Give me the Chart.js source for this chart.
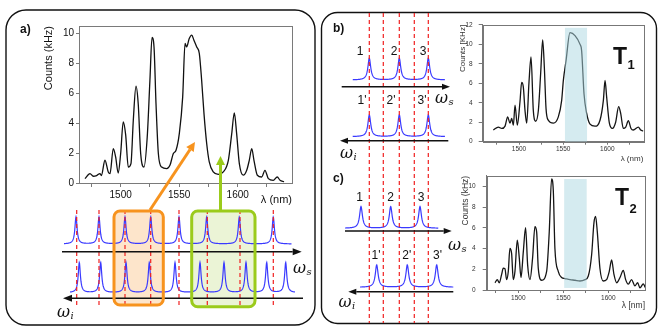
<!DOCTYPE html>
<html><head><meta charset="utf-8">
<script src="https://cdn.jsdelivr.net/npm/chart.js@4.4.1/dist/chart.umd.min.js"></script>
<style>
html,body{margin:0;padding:0;background:#fff;}
#wrap{position:relative;width:664px;height:332px;overflow:hidden;background:#fff;}
canvas{position:absolute;}
</style></head><body>
<div id="wrap">
<canvas id="cA" width="285" height="195" style="left:20px;top:15px"></canvas>
<canvas id="cT1" width="200" height="155" style="left:455px;top:15px"></canvas>
<canvas id="cT2" width="200" height="150" style="left:455px;top:165px"></canvas>
<canvas id="cOv" width="664" height="332" style="left:0;top:0;pointer-events:none"></canvas>
</div>
<script>
// ---- data: panel a) spectrum ----
const lambdaA = [1469.5,1473.8,1476.6,1479.5,1482.3,1483.5,1486.6,1489.4,1490.9,1493.7,1495.7,1497.9,1500,1502.2,1504.3,1506.5,1508.8,1510.8,1513.1,1515,1517.1,1519.9,1522.7,1525,1526.8,1528.5,1530.2,1532.2,1535,1539.3,1542.1,1545,1547.3,1550.1,1553,1555,1556.4,1558.6,1560.7,1562.6,1565,1567.2,1569.2,1571.2,1573.5,1575.7,1579.1,1583.4,1587.7,1592,1594.9,1597.1,1599.1,1601.4,1604.8,1607.7,1609.9,1612,1613.9,1616.8,1620.5,1623.3,1626.2,1630.4,1633.8,1636.2,1639.6];
const countsA = [0.29,0.63,0.45,0.5,0.63,0.5,1.52,0.74,0.63,2.3,1.74,0.67,1.97,4.08,3.2,1.07,1.3,4.2,6.47,5.3,1.97,1.07,3.08,6.87,9.73,9.1,5.3,1.97,1.07,0.96,1.18,1.97,2.19,3.3,5.76,9.33,9.1,9.66,9.89,9.55,9.1,8.66,6.87,4.64,2.64,1.41,0.74,0.58,0.74,1.52,3.3,4.69,3.3,1.3,0.52,0.85,1.52,2.3,1.52,0.52,0.4,0.85,0.29,0.18,0.4,0.18,0.09];
// ---- data: T1 spectrum ----
const lambdaT1 = [1470.9,1476.6,1480.4,1484.2,1487.2,1489.8,1491.7,1493.6,1495.5,1498.1,1501.1,1503,1504.9,1506.8,1508.7,1511.3,1513.6,1516.2,1518.9,1521.9,1524.5,1526.8,1528.7,1530.6,1533.2,1538.9,1544.5,1548.3,1550.2,1553.2,1557.7,1563.4,1569.1,1570.9,1573.6,1576.6,1580.4,1586,1591.7,1595.5,1597.4,1599.2,1602.3,1605.7,1609.4,1612.8,1615.1,1618.1,1620.8,1623.8,1626.8,1629.4,1635.1,1637.7,1641];
const countsT1 = [1.2,1.5,1.36,1.6,2.55,1.9,2.4,1.7,3.75,1.7,4.1,6.1,5.6,3.2,1.9,6.1,8.7,3.2,2.1,3.2,7.0,10.45,7.6,3.4,2.2,1.9,2.55,4.25,6.3,8.3,11.2,10.9,10.0,9.35,4.9,2.9,1.8,1.6,2.2,4.25,6.3,4.6,1.9,1.36,2.0,3.6,2.9,1.36,1.5,2.15,1.36,1.2,1.5,1.2,1.1];
// ---- data: T2 spectrum ----
const lambdaT2 = [1474.1,1476.7,1478.9,1481.5,1483.3,1485.2,1487,1488.9,1490.7,1492.6,1494.4,1496.3,1498.9,1501.1,1503,1505.6,1508.1,1510.4,1513,1515.9,1518.5,1520.4,1522.2,1525.9,1531.5,1534.4,1537,1538.9,1540.7,1544.4,1548.1,1551.9,1557.4,1563,1568.5,1574.1,1577.8,1581.5,1584.1,1585.9,1587.8,1590.7,1594.4,1598.1,1601.1,1603.7,1606.3,1609.3,1613,1616.7,1619.3,1622.2,1625.9,1629.6,1632.6,1635.2,1638.9,1641];
const countsT2 = [0.7,1.0,0.7,1.5,2.1,2.05,1.0,1.8,4.0,3.5,1.0,1.8,4.8,3.1,1.2,3.7,6.0,2.4,1.0,3.1,6.1,5.6,2.1,0.94,1.8,5.6,10.7,9.6,4.0,1.8,1.2,1.1,1.0,0.94,0.87,1.0,1.35,3.4,6.5,7.1,5.6,2.1,0.87,1.0,1.8,2.9,1.5,0.7,1.2,1.9,1.0,0.56,1.0,0.4,0.7,0.2,0.6,0.25];
// ---- ticks ----
const xTickValues = [1475,1500,1525,1550,1575,1600,1625];
const xTickLabels = [1500,1550,1600];
const yTicksA = [0,2,4,6,8,10];
const yTicksT1 = [0,2,4,6,8,10,12];
const yTicksT2 = [0,2,4,6,8,10];
// ---- shaded bands [from, to, bottom, top] ----
const bandT1 = [1552, 1577, 0, 11.7];
const bandT2 = [1551, 1576, 0.2, 10.7];

const FONT = "'Liberation Sans', Arial, sans-serif";

const framePlugin = {
  id:'frame',
  afterDatasetsDraw(chart, args, opts){
    const {ctx, chartArea:a} = chart;
    ctx.save();
    const band = opts.band;
    if (band) {
      const {x, y} = chart.scales;
      const x0 = x.getPixelForValue(band[0]), x1 = x.getPixelForValue(band[1]);
      const y0 = y.getPixelForValue(band[3]), y1 = y.getPixelForValue(band[2]);
      ctx.fillStyle = 'rgba(172,216,226,0.5)';
      ctx.fillRect(x0, y0, x1 - x0, y1 - y0);
    }
    ctx.strokeStyle = opts.color || '#777';
    ctx.lineWidth = 1;
    ctx.strokeRect(Math.round(a.left)+0.5, Math.round(a.top)+0.5, Math.round(a.right-a.left), Math.round(a.bottom-a.top));
    ctx.restore();
  }
};

function spectrum(id, lam, cnt, c) {
  return new Chart(document.getElementById(id), {
    type:'line',
    data:{datasets:[{data: lam.map((l,i)=>({x:l, y:cnt[i]})), borderColor:c.line, borderWidth:c.lw,
      pointRadius:0, cubicInterpolationMode:'monotone', fill:false}]},
    options:{
      responsive:false, animation:false, devicePixelRatio:1, events:[],
      layout:{padding:{top:c.padTop, right:c.padRight, left:0, bottom:0}},
      plugins:{legend:{display:false}, tooltip:{enabled:false}, frame:{band:c.band, color:c.frame}},
      scales:{
        x:{type:'linear', min:c.xmin, max:c.xmax,
          afterFit:s=>{s.height=c.xh;},
          afterBuildTicks:s=>{s.ticks = xTickValues.map(v=>({value:v}));},
          ticks:{autoSkip:false, maxRotation:0, padding:c.xPad, color:c.tick,
            font:{family:FONT, size:c.tickFont},
            callback:v=> xTickLabels.includes(v) ? String(v) : ''},
          grid:{drawOnChartArea:false, drawTicks:true, tickLength:c.xTL, color:c.frame},
          border:{display:true, color:c.frame, width:1},
          title:{display:true, text:c.xTitle, align:'end', color:c.title,
            font:{family:FONT, size:c.titleFont}, padding:{top:0, bottom:c.xTitlePad}}
        },
        y:{type:'linear', min:0, max:c.ymax,
          afterFit:s=>{s.width=c.yw;},
          afterBuildTicks:s=>{s.ticks = c.yTicks.map(v=>({value:v}));},
          ticks:{padding:c.yPad, color:c.tick, font:{family:FONT, size:c.tickFont}},
          grid:{drawOnChartArea:false, drawTicks:true, tickLength:c.yTL, color:c.frame},
          border:{display:true, color:c.frame, width:1},
          title:{display:true, text:c.yTitle, align:'end', color:c.title,
            font:{family:FONT, size:c.titleFont}, padding:{top:c.yTitlePad, bottom:0}}
        }
      }
    },
    plugins:[framePlugin]
  });
}

spectrum('cA', lambdaA, countsA, {line:'#111', lw:1.3, padTop:11, padRight:13, xmin:1464.4, xmax:1646.4,
  xh:27, yw:59, ymax:10.5, yTicks:yTicksA, tickFont:10, titleFont:11, tick:'#111', title:'#111', frame:'#7a7a7a',
  xPad:2, xTL:4, yPad:2, yTL:3, xTitle:'λ (nm)', xTitlePad:3.4, yTitle:'Counts (kHz)', yTitlePad:22.4});

spectrum('cT1', lambdaT1, countsT1, {line:'#151515', lw:1.3, padTop:9, padRight:11.7, xmin:1458.9, xmax:1640.7,
  xh:28.3, yw:27.7, ymax:12, yTicks:yTicksT1, tickFont:6.5, titleFont:8, tick:'#333', title:'#333', frame:'#777',
  xPad:1, xTL:3, yPad:6, yTL:4, xTitle:'λ (nm)', xTitlePad:6, yTitle:'Counts [KHz]', yTitlePad:2.5, band:bandT1});

spectrum('cT2', lambdaT2, countsT2, {line:'#151515', lw:1.3, padTop:6.7, padRight:10, xmin:1464.9, xmax:1640.8,
  xh:25, yw:31.7, ymax:11, yTicks:yTicksT2, tickFont:6.5, titleFont:8.5, tick:'#333', title:'#333', frame:'#777',
  xPad:1, xTL:3, yPad:7, yTL:4, xTitle:'λ [nm]', xTitlePad:3.9, yTitle:'Counts (kHz)', yTitlePad:5.5, band:bandT2});

// ---- overlay: panels, schematics, arrows, labels ----
const schematic = {
  id:'schematic',
  afterDraw(chart){
    const {ctx} = chart;
    const sx = chart.scales.x, sy = chart.scales.y;
    const X = v => sx.getPixelForValue(v), Y = v => sy.getPixelForValue(v);

    function rrect(x, y, w, h, r){
      ctx.beginPath();
      ctx.moveTo(X(x+r), Y(y));
      ctx.arcTo(X(x+w), Y(y), X(x+w), Y(y+h), r);
      ctx.arcTo(X(x+w), Y(y+h), X(x), Y(y+h), r);
      ctx.arcTo(X(x), Y(y+h), X(x), Y(y), r);
      ctx.arcTo(X(x), Y(y), X(x+w), Y(y), r);
      ctx.closePath();
    }
    function comb(x0, x1, base, h, g, peaks){
      ctx.beginPath();
      for (let v = x0; v <= x1 + 1e-6; v += 0.25) {
        let s = 0;
        for (const p of peaks) { const d = v - p; s += g*g/(d*d + g*g); }
        const px = X(v), py = Y(base - h*s);
        if (v === x0) ctx.moveTo(px, py); else ctx.lineTo(px, py);
      }
      ctx.strokeStyle = '#3a3aff'; ctx.lineWidth = 1.2; ctx.stroke();
    }
    function dashed(xs, y0, y1){
      ctx.save();
      ctx.setLineDash([4,3]); ctx.strokeStyle = '#f02020'; ctx.lineWidth = 1.2;
      for (const v of xs){ ctx.beginPath(); ctx.moveTo(X(v), Y(y0)); ctx.lineTo(X(v), Y(y1)); ctx.stroke(); }
      ctx.restore();
    }
    function arrow(x0, y0, x1, y1, color, lw, hl, hw){
      const ang = Math.atan2(Y(y1)-Y(y0), X(x1)-X(x0));
      const bx = X(x1) - hl*Math.cos(ang), by = Y(y1) - hl*Math.sin(ang);
      ctx.beginPath(); ctx.moveTo(X(x0), Y(y0)); ctx.lineTo(bx, by);
      ctx.strokeStyle = color; ctx.lineWidth = lw; ctx.stroke();
      ctx.beginPath(); ctx.moveTo(X(x1), Y(y1));
      ctx.lineTo(bx + hw/2*Math.sin(ang), by - hw/2*Math.cos(ang));
      ctx.lineTo(bx - hw/2*Math.sin(ang), by + hw/2*Math.cos(ang));
      ctx.closePath(); ctx.fillStyle = color; ctx.fill();
    }
    function text(t, x, y, font, align){
      ctx.font = font; ctx.fillStyle = '#111'; ctx.textAlign = align || 'left'; ctx.textBaseline = 'alphabetic';
      ctx.fillText(t, X(x), Y(y));
    }
    function omega(x, y, sub){
      text('ω', x, y, "italic 16px 'DejaVu Serif', serif");
      const w = ctx.measureText('ω').width;
      text(sub, x + w + 0.5, y + 2, "italic 10px 'DejaVu Serif', serif");
    }

    ctx.save();
    // panels
    ctx.lineWidth = 1.4; ctx.strokeStyle = '#111';
    rrect(6, 10, 309, 315, 20); ctx.stroke();
    rrect(321.5, 12.5, 335, 311, 16); ctx.stroke();

    // a) boxes (fill)
    rrect(114, 211, 49.3, 94, 6); ctx.fillStyle = '#fde5cb'; ctx.fill();
    rrect(191.7, 211, 63.3, 95.7, 6); ctx.fillStyle = '#ebf4d6'; ctx.fill();

    // combs
    comb(64, 291.7, 244, 27, 1.3, [76, 99, 125, 150.7, 179, 206.7, 239.3, 273.3]);
    comb(70, 295, 292.7, 30, 1.3, [79.3, 100.7, 126, 149.3, 175, 200, 224, 246, 266.7, 285.7]);
    comb(352.7, 445, 80, 21.7, 1.7, [369.3, 399.3, 428.3]);
    comb(352.7, 445, 136.7, 21.7, 1.7, [369.3, 399.3, 428.3]);
    comb(345, 438.3, 228.3, 21.6, 1.7, [361, 390.7, 420]);
    comb(360, 453.3, 287.3, 22.3, 1.7, [376.7, 407.3, 436.7]);

    // red dashed guides
    dashed([76.7, 99, 125, 150.7, 179, 207.3, 240, 273.3], 210, 308);
    dashed([369.3, 383.3, 399.3, 414.3, 428.3], 13, 323);

    // frequency axes
    arrow(62, 251.7, 301.7, 251.7, '#111', 1.6, 9, 7);
    arrow(303, 298.3, 63, 298.3, '#111', 1.6, 9, 7);
    arrow(341.7, 86.7, 450, 86.7, '#111', 1.4, 8, 6);
    arrow(448.3, 140.7, 340, 140.7, '#111', 1.4, 8, 6);
    arrow(345, 231, 451.7, 231, '#111', 1.4, 8, 6);
    arrow(453.3, 291.7, 348.3, 291.7, '#111', 1.4, 8, 6);

    // box borders
    ctx.lineWidth = 3;
    rrect(114, 211, 49.3, 94, 6); ctx.strokeStyle = '#f7931e'; ctx.stroke();
    rrect(191.7, 211, 63.3, 95.7, 6); ctx.strokeStyle = '#9bcb1b'; ctx.stroke();

    // pointers to spectrum
    arrow(150, 210, 195, 142, '#f7931e', 3, 9, 9);
    arrow(220.5, 210, 220.5, 156, '#9bcb1b', 3, 9, 9);

    // labels
    text('a)', 20, 33, "bold 12px " + FONT);
    text('b)', 333, 32, "bold 12px " + FONT);
    text('c)', 333, 182, "bold 12px " + FONT);
    const num = "12px " + FONT;
    text('1', 360, 55, num, 'center'); text('2', 394, 55, num, 'center'); text('3', 423, 55, num, 'center');
    text("1'", 362, 104, num, 'center'); text("2'", 391, 104, num, 'center'); text("3'", 422, 104, num, 'center');
    text('1', 359.7, 200.5, num, 'center'); text('2', 390.5, 200.5, num, 'center'); text('3', 421, 200.5, num, 'center');
    text("1'", 376, 259, num, 'center'); text("2'", 406.7, 259, num, 'center'); text("3'", 437.5, 259, num, 'center');
    omega(293, 273, 's'); omega(57, 317, 'i');
    omega(435, 103, 's'); omega(340, 158, 'i');
    omega(448, 250, 's'); omega(338.5, 307, 'i');
    text('T', 613, 63.5, "bold 23px " + FONT); text('1', 627.5, 68.5, "bold 13px " + FONT);
    text('T', 615, 205, "bold 23px " + FONT); text('2', 629.5, 213, "bold 13px " + FONT);
    ctx.restore();
  }
};

new Chart(document.getElementById('cOv'), {
  type:'scatter',
  data:{datasets:[]},
  options:{
    responsive:false, animation:false, devicePixelRatio:1, events:[],
    layout:{padding:0},
    plugins:{legend:{display:false}, tooltip:{enabled:false}},
    scales:{
      x:{type:'linear', min:0, max:664, display:false},
      y:{type:'linear', min:0, max:332, reverse:true, display:false}
    }
  },
  plugins:[schematic]
});
</script>
</body></html>
